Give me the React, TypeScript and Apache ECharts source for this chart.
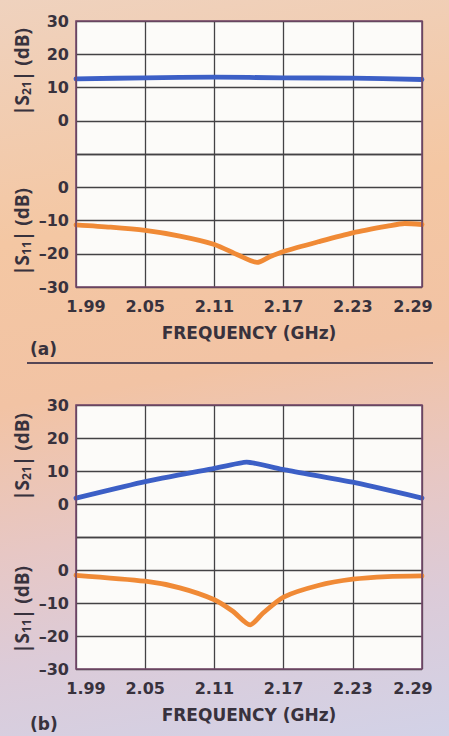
import React, { useEffect, useRef } from "react";
import * as echarts from "echarts";

// Frequency axis ticks (GHz)
const FREQ_TICKS = [1.99, 2.05, 2.11, 2.17, 2.23, 2.29];

// Panel (a)
const freqA21 = [1.99, 2.05, 2.11, 2.17, 2.23, 2.29];
const s21A = [12.6, 12.9, 13.1, 12.9, 12.8, 12.4];
const freqA11 = [1.99, 2.02, 2.05, 2.08, 2.11, 2.13, 2.147, 2.158, 2.17, 2.2, 2.23, 2.26, 2.275, 2.29];
const s11A = [-11.3, -12.0, -13.0, -14.7, -17.2, -20.3, -22.6, -20.9, -19.3, -16.4, -13.7, -11.7, -10.9, -11.2];

// Panel (b)
const freqB21 = [1.99, 2.05, 2.11, 2.138, 2.17, 2.23, 2.29];
const s21B = [1.8, 6.8, 10.8, 12.7, 10.4, 6.6, 1.8];
const freqB11 = [1.99, 2.05, 2.08, 2.11, 2.126, 2.141, 2.152, 2.17, 2.2, 2.23, 2.26, 2.29];
const s11B = [-1.6, -3.4, -5.4, -9.0, -12.5, -16.6, -13.1, -8.2, -4.7, -2.8, -2.0, -1.8];

const S21_TICKS = [0, 10, 20, 30];
const S11_TICKS = [0, -10, -20, -30];

const F0 = FREQ_TICKS[0];
const toX = (f: number) => Math.round((f - F0) * 10000) / 10; // MHz offset from 1.99 GHz
const pairs = (fs: number[], vs: number[]) => fs.map((f, i) => [toX(f), vs[i]]);

const TEXT = "#38323d";
const FONT = "DejaVu Sans";
const GRIDLINE = "#434245";
const BLUE = "#3c5fc6";
const ORANGE = "#f08a36";

export default function App() {
  const ref = useRef<HTMLDivElement>(null);
  useEffect(() => {
    if (!ref.current) return;
    const chart = echarts.init(ref.current, undefined, { renderer: "svg" });

    const grids = [
      { left: 76, top: 21, width: 346, height: 133 },
      { left: 76, top: 154, width: 346, height: 133 },
      { left: 76, top: 405, width: 346, height: 132 },
      { left: 76, top: 537, width: 346, height: 132 },
    ].map((g) => ({ ...g, show: true, backgroundColor: "#fcfbf9", borderWidth: 0, containLabel: false }));

    const xSpan = toX(FREQ_TICKS[FREQ_TICKS.length - 1]);
    const xInterval = toX(FREQ_TICKS[1]);
    const xAxis = [0, 1, 2, 3].map((i) => {
      const showLabels = i === 1 || i === 3;
      return {
        type: "value",
        gridIndex: i,
        min: 0,
        max: xSpan,
        interval: xInterval,
        axisLine: { show: false },
        axisTick: { show: false },
        splitLine: { show: true, lineStyle: { color: GRIDLINE, width: 1.3 } },
        name: showLabels ? "FREQUENCY (GHz)" : "",
        nameLocation: "middle",
        nameGap: 37,
        nameTextStyle: { color: TEXT, fontFamily: FONT, fontWeight: "bold", fontSize: 17 },
        axisLabel: {
          show: showLabels,
          margin: 11,
          color: TEXT,
          fontFamily: FONT,
          fontWeight: "bold",
          fontSize: 16,
          formatter: (v: number) => {
            const s = (F0 + v / 1000).toFixed(2);
            if (v === 0) return "{min|" + s + "}";
            if (v === xSpan) return "{max|" + s + "}";
            return s;
          },
          rich: {
            min: { color: TEXT, fontFamily: FONT, fontWeight: "bold", fontSize: 16, padding: [0, 0, 0, 20] },
            max: { color: TEXT, fontFamily: FONT, fontWeight: "bold", fontSize: 16, padding: [0, 18, 0, 0] },
          },
        },
      };
    });

    const yAxis = [0, 1, 2, 3].map((i) => {
      const isS21 = i === 0 || i === 2;
      return {
        type: "value",
        gridIndex: i,
        min: isS21 ? -10 : -30,
        max: isS21 ? 30 : 10,
        interval: 10,
        axisLine: { show: false },
        axisTick: { show: false },
        splitLine: { show: true, lineStyle: { color: GRIDLINE, width: 1.3 } },
        axisLabel: {
          margin: 7,
          color: TEXT,
          fontFamily: FONT,
          fontWeight: "bold",
          fontSize: 16,
          formatter: (v: number) => {
            const ticks = isS21 ? S21_TICKS : S11_TICKS;
            if (ticks.indexOf(v) < 0) return "";
            return v < 0 ? "\u2013" + Math.abs(v) : String(v);
          },
        },
      };
    });

    const lineSeries = (idx: number, data: number[][], color: string, smooth: number | boolean) => ({
      type: "line",
      xAxisIndex: idx,
      yAxisIndex: idx,
      data,
      symbol: "none",
      smooth,
      lineStyle: { color, width: 4.8, cap: "round", join: "round" },
      z: 5,
    });

    const yName = (text: string, x: number, y: number) => ({
      type: "text",
      x,
      y,
      rotation: Math.PI / 2,
      z: 10,
      style: {
        text,
        align: "center",
        verticalAlign: "middle",
        fill: TEXT,
        fontFamily: "Open Sans",
        fontWeight: "bold",
        fontSize: 19,
        rich: {
          sub: { fill: TEXT, fontFamily: "Open Sans", fontWeight: "bold", fontSize: 12, padding: [9, 0, 0, 0] },
        },
      },
    });

    const frame = (y: number, h: number) => ({
      type: "rect",
      z: 20,
      shape: { x: 76, y, width: 346, height: h },
      style: { fill: "none", stroke: "#74476a", lineWidth: 1.6 },
    });

    const panelLabel = (t: string, y: number) => ({
      type: "text",
      x: 30,
      y,
      z: 10,
      style: { text: t, fill: TEXT, fontFamily: FONT, fontWeight: "bold", fontSize: 17, align: "left", verticalAlign: "middle" },
    });

    chart.setOption({
      animation: false,
      backgroundColor: "transparent",
      grid: grids,
      xAxis,
      yAxis,
      series: [
        lineSeries(0, pairs(freqA21, s21A), BLUE, 0.3),
        lineSeries(1, pairs(freqA11, s11A), ORANGE, 0.25),
        lineSeries(2, pairs(freqB21, s21B), BLUE, 0.15),
        lineSeries(3, pairs(freqB11, s11B), ORANGE, 0.25),
      ],
      graphic: [
        frame(21, 266),
        frame(405, 264),
        {
          type: "line",
          z: 10,
          shape: { x1: 27, y1: 363, x2: 433, y2: 363 },
          style: { stroke: "#554655", lineWidth: 2 },
        },
        panelLabel("(a)", 349),
        panelLabel("(b)", 724),
        yName("|S{sub|21}| (dB)", 22, 72),
        yName("|S{sub|11}| (dB)", 22, 232),
        yName("|S{sub|21}| (dB)", 22, 457),
        yName("|S{sub|11}| (dB)", 22, 610),
      ],
    });
    return () => chart.dispose();
  }, []);

  return (
    <div
      ref={ref}
      style={{
        position: "absolute",
        left: 0,
        top: 0,
        width: 449,
        height: 736,
        background:
          "linear-gradient(170deg, #efd2be 0%, #f4c7a3 30%, #f2c3a4 50%, #e7c7c4 68%, #dccbd8 82%, #d2d2e7 100%)",
      }}
    />
  );
}
